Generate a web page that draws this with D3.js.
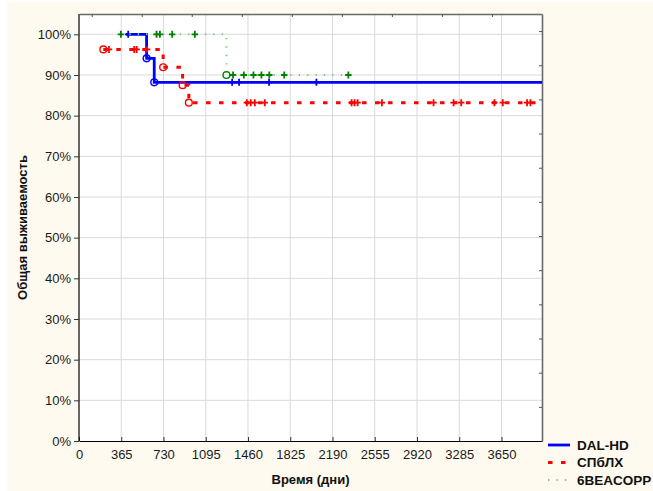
<!DOCTYPE html>
<html><head><meta charset="utf-8">
<script src="https://cdn.jsdelivr.net/npm/d3@7"></script>
<style>body{margin:0;background:#fff}svg{display:block}text{font-family:"Liberation Sans",Arial,sans-serif}</style>
</head><body>
<svg id="c" width="653" height="491"></svg>
<script>
// ---- data ----
const xTicks = [0, 365, 730, 1095, 1460, 1825, 2190, 2555, 2920, 3285, 3650];
const yTicks = [0, 10, 20, 30, 40, 50, 60, 70, 80, 90, 100];
const seriesNames = ["DAL-HD", "СПбЛХ", "6BEACOPP"];
// start day, start survival %
const dalStart = [405, 100];
const dalEvents = [[584, 94.1], [650, 88.2]];          // [day, survival %]
const dalCensored = [425, 1323, 1383, 1642, 2051];
const dalEnd = 4000;

const spbStart = [210, 96.3];
const spbEvents = [[727, 91.9], [895, 87.5], [949, 83.2]];
const spbCensored = [259, 477, 498, 589, 1450, 1484, 1519, 1605, 2355, 2381, 2407, 2617, 3063, 3236, 3302, 3589, 3661, 3871, 3900];
const spbEnd = 4000;

const beaStart = [362, 100];
const beaEvents = [[1274, 90.0]];
const beaCensored = [362, 670, 699, 805, 1001, 1331, 1424, 1507, 1576, 1644, 1773, 2327];
const beaEnd = 2327;

// ---- layout ----
const svg = d3.select("#c");
const L = 79, R = 542, T = 14, B = 441;
svg.append("rect").attr("x", 7).attr("y", 2).attr("width", 646).attr("height", 489).attr("fill", "#fefaef");
svg.append("rect").attr("x", L).attr("y", T).attr("width", R - L).attr("height", B - T).attr("fill", "#fff");

const x = d3.scaleLinear().domain([0, 4000]).range([L, R]);
const y = d3.scaleLinear().domain([0, 105]).range([B, T]);
const xTop = d3.scaleLinear().domain([-0.254, 9.0]).range([L, R]);
const yRight = d3.scaleLinear().domain([0, 12.5]).range([B, T]);

// grid
const g = svg.append("g");
g.selectAll(".vg").data(xTicks.filter(d => d > 0)).enter().append("line")
  .attr("x1", d => x(d)).attr("x2", d => x(d)).attr("y1", T).attr("y2", B)
  .attr("stroke", "#dadada").attr("stroke-width", 1);
g.selectAll(".hg").data(yTicks.filter(d => d > 0)).enter().append("line")
  .attr("y1", d => y(d)).attr("y2", d => y(d)).attr("x1", L).attr("x2", R)
  .attr("stroke", "#dadada").attr("stroke-width", 1);

// axes
const axB = d3.axisBottom(x).tickValues(xTicks).tickFormat(d3.format("d")).tickSizeInner(-4).tickSizeOuter(0).tickPadding(9);
const gB = svg.append("g").attr("transform", `translate(0,${B})`).call(axB);
const axL = d3.axisLeft(y).tickValues(yTicks).tickFormat(d => d + "%").tickSizeInner(5).tickSizeOuter(0).tickPadding(3);
const gL = svg.append("g").attr("transform", `translate(${L},0)`).call(axL);
const axT = d3.axisTop(xTop).tickValues(d3.range(0, 9)).tickFormat("").tickSizeInner(-3).tickSizeOuter(0);
const gT = svg.append("g").attr("transform", `translate(0,${T})`).call(axT);
const axR = d3.axisRight(yRight).tickValues(d3.range(1, 13)).tickFormat("").tickSizeInner(-3).tickSizeOuter(0);
const gR = svg.append("g").attr("transform", `translate(${R},0)`).call(axR);
[gB, gL].forEach(a => {
  a.select(".domain").attr("stroke", "#000").attr("stroke-width", 1.2);
  a.selectAll(".tick line").attr("stroke", "#333");
  a.selectAll("text").attr("font-size", 13).attr("fill", "#1a1a1a").style("font-family", '"Liberation Sans",Arial,sans-serif');
});
[gT, gR].forEach(a => {
  a.select(".domain").attr("stroke", "#6a6a6a").attr("stroke-width", 1.6);
  a.selectAll(".tick line").attr("stroke", "#555");
});
gL.select(".domain").attr("d", `M0,${T}V${B}`);

// titles
svg.append("text").attr("x", (L + R) / 2).attr("y", 484).attr("text-anchor", "middle")
  .attr("font-size", 13).attr("font-weight", "bold").attr("fill", "#111").text("Время (дни)");
svg.append("text").attr("transform", `translate(27,${(T + B) / 2}) rotate(-90)`).attr("text-anchor", "middle")
  .attr("font-size", 13).attr("font-weight", "bold").attr("fill", "#111").text("Общая выживаемость");

// clip
svg.append("clipPath").attr("id", "pc").append("rect").attr("x", L).attr("y", T - 6).attr("width", R - L).attr("height", B - T + 6);
const plot = svg.append("g").attr("clip-path", "url(#pc)");

const styles = [
  {color: "#0000ff", mark: "#0000ff", width: 2.8, dash: null, legEnd: 570},
  {color: "#ff0000", mark: "#ff0000", width: 3, dash: "4.5,8.5", legEnd: 567},
  {color: "#86c986", mark: "#008000", width: 2, dash: "1.4,7", legEnd: 570}
];
const data = [
  {start: dalStart, events: dalEvents, cens: dalCensored, end: dalEnd},
  {start: spbStart, events: spbEvents, cens: spbCensored, end: spbEnd},
  {start: beaStart, events: beaEvents, cens: beaCensored, end: beaEnd}
];
const line = d3.line().x(d => x(d[0])).y(d => y(d[1])).curve(d3.curveStepAfter);

function levelAt(s, t) {
  let v = s.start[1];
  s.events.forEach(e => { if (e[0] <= t) v = e[1]; });
  return v;
}

data.forEach((s, i) => {
  const st = styles[i];
  const pts = [s.start].concat(s.events).concat([[s.end, s.events[s.events.length - 1][1]]]);
  plot.append("path").attr("d", line(pts)).attr("fill", "none")
    .attr("stroke", st.color).attr("stroke-width", st.width)
    .attr("stroke-dasharray", st.dash);
  // censored marks
  plot.selectAll(null).data(s.cens).enter().append("path")
    .attr("d", d => { const cx = x(d), cy = y(levelAt(s, d)); return `M${cx - 3.2},${cy}H${cx + 3.2}M${cx},${cy - 3.5}V${cy + 3.5}`; })
    .attr("stroke", st.mark).attr("stroke-width", 1.8).attr("fill", "none");
  // event circles
  const ev = (i === 1 ? [s.start] : []).concat(s.events);
  plot.selectAll(null).data(ev).enter().append("circle")
    .attr("cx", d => x(d[0])).attr("cy", d => y(d[1])).attr("r", 3.4)
    .attr("fill", "none").attr("stroke", i === 2 ? "#008000" : st.color).attr("stroke-width", 1.4);
});

// legend
const lg = svg.append("g");
seriesNames.forEach((n, i) => {
  const st = styles[i];
  const ly = 445 + i * 17.5;
  lg.append("line").attr("x1", 548).attr("x2", st.legEnd).attr("y1", ly).attr("y2", ly)
    .attr("stroke", st.color).attr("stroke-width", st.width).attr("stroke-dasharray", st.dash);
  lg.append("text").attr("x", 577).attr("y", ly + 4.7).attr("font-size", 13.5).attr("font-weight", "bold")
    .attr("fill", "#111").text(n);
});
</script>
</body></html>
